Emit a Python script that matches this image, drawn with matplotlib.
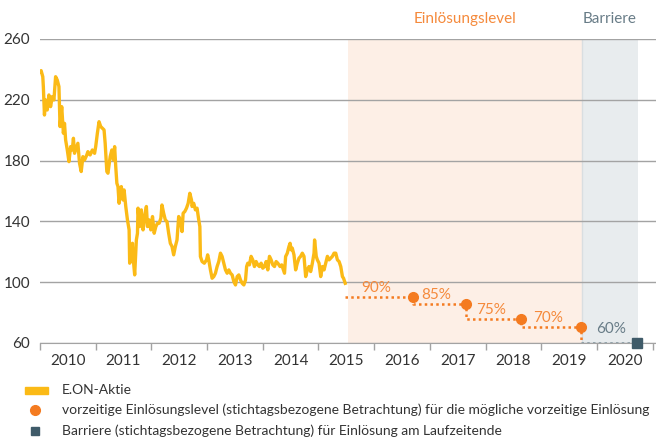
import matplotlib.pyplot as plt
from matplotlib.patches import Rectangle
from matplotlib.lines import Line2D

plt.rcParams['font.family'] = ['Lato', 'DejaVu Sans']

# E.ON share price
stock_years = [
    2010.00, 2010.02, 2010.05, 2010.06, 2010.08, 2010.10, 2010.13, 2010.16, 2010.19, 2010.22,
    2010.25, 2010.28, 2010.31, 2010.34, 2010.36, 2010.39, 2010.42, 2010.44, 2010.46, 2010.49,
    2010.52, 2010.55, 2010.58, 2010.60, 2010.62, 2010.66, 2010.68, 2010.71, 2010.74, 2010.77,
    2010.80, 2010.84, 2010.86, 2010.90, 2010.94, 2010.98, 2011.00, 2011.03, 2011.06, 2011.09,
    2011.12, 2011.15, 2011.17, 2011.20, 2011.22, 2011.26, 2011.29, 2011.32, 2011.34, 2011.36,
    2011.38, 2011.40, 2011.42, 2011.44, 2011.46, 2011.49, 2011.51, 2011.54, 2011.57, 2011.60,
    2011.61, 2011.64, 2011.66, 2011.67, 2011.70, 2011.73, 2011.75, 2011.76, 2011.79, 2011.82,
    2011.85, 2011.88, 2011.91, 2011.93, 2011.96, 2011.99, 2012.02, 2012.05, 2012.08, 2012.11,
    2012.14, 2012.17, 2012.19, 2012.22, 2012.25, 2012.28, 2012.31, 2012.34, 2012.37, 2012.40,
    2012.43, 2012.46, 2012.49, 2012.52, 2012.55, 2012.57, 2012.60, 2012.63, 2012.66, 2012.69,
    2012.72, 2012.73, 2012.76, 2012.79, 2012.82, 2012.85, 2012.87, 2012.88, 2012.91, 2012.95,
    2012.99, 2013.01, 2013.03, 2013.06, 2013.09, 2013.12, 2013.15, 2013.18, 2013.21, 2013.24,
    2013.27, 2013.30, 2013.33, 2013.36, 2013.39, 2013.42, 2013.45, 2013.48, 2013.51, 2013.54,
    2013.57, 2013.60, 2013.63, 2013.66, 2013.69, 2013.71, 2013.73, 2013.76, 2013.79, 2013.82,
    2013.85, 2013.88, 2013.91, 2013.94, 2013.97, 2014.00, 2014.03, 2014.06, 2014.09, 2014.12,
    2014.15, 2014.18, 2014.21, 2014.24, 2014.27, 2014.31, 2014.34, 2014.37, 2014.39, 2014.41,
    2014.44, 2014.47, 2014.49, 2014.51, 2014.53, 2014.56, 2014.59, 2014.62, 2014.65, 2014.68,
    2014.71, 2014.74, 2014.77, 2014.80, 2014.83, 2014.86, 2014.89, 2014.92, 2014.93, 2014.96,
    2014.98, 2015.01, 2015.04, 2015.07, 2015.10, 2015.13, 2015.16, 2015.19, 2015.22, 2015.25,
    2015.28, 2015.31, 2015.34, 2015.37, 2015.40, 2015.43, 2015.45, 2015.48,
]
stock_prices = [
    238.5, 239.2, 235.2, 228.7, 210.0, 219.9, 213.3, 223.2, 215.5, 222.1,
    219.9, 235.2, 233.0, 228.7, 202.4, 215.5, 198.0, 204.5, 193.6, 187.0,
    179.3, 189.2, 187.0, 194.7, 184.8, 189.2, 191.4, 178.2, 172.8, 182.6,
    180.4, 183.7, 185.9, 183.7, 187.0, 184.8, 189.2, 198.0, 205.6, 202.4,
    201.3, 200.2, 191.4, 172.8, 171.7, 182.6, 187.0, 180.4, 189.2, 176.0,
    165.1, 162.9, 151.9, 158.5, 162.9, 154.1, 160.7, 149.8, 141.0, 134.4,
    112.5, 114.7, 125.6, 116.9, 104.8, 127.8, 132.2, 148.7, 136.6, 147.6,
    134.4, 143.2, 149.8, 136.6, 141.0, 134.4, 143.2, 132.2, 136.6, 138.8,
    138.8, 142.1, 150.8, 145.4, 141.0, 139.9, 132.2, 125.6, 123.5, 118.0,
    123.5, 127.8, 143.2, 141.0, 133.3, 145.4, 146.5, 148.7, 151.9, 158.5,
    154.1, 149.8, 151.9, 147.6, 148.7, 141.0, 136.6, 116.9, 113.6, 112.5,
    114.7, 118.0, 114.7, 108.1, 102.6, 103.7, 105.9, 110.3, 113.6, 119.1,
    116.9, 112.5, 108.1, 105.9, 108.1, 105.9, 104.8, 100.4, 98.2, 103.7,
    104.8, 101.5, 99.3, 98.2, 101.5, 110.3, 112.5, 111.4, 117.0, 114.7,
    110.3, 113.6, 111.4, 110.3, 112.5, 109.2, 110.3, 113.6, 108.1, 117.0,
    114.7, 111.4, 110.3, 113.6, 112.5, 110.3, 111.4, 108.1, 105.9, 116.9,
    119.1, 123.5, 125.6, 121.3, 122.4, 118.0, 108.1, 112.5, 115.8, 117.0,
    119.1, 117.0, 103.7, 108.1, 110.3, 107.0, 112.5, 119.1, 127.8, 117.0,
    114.7, 112.5, 103.7, 110.3, 108.1, 112.5, 117.0, 114.7, 115.8, 117.0,
    119.1, 119.1, 114.7, 113.6, 110.3, 103.7, 102.6, 99.3,
]

# early redemption levels and barrier
start_date = 2015.47
level_dates = [2016.69, 2017.64, 2018.64, 2019.72]
level_values = [90.5, 85.5, 75.5, 70.5]
level_labels = ['90%', '85%', '75%', '70%']
barrier_date = 2020.72
barrier_value = 60.3
barrier_label = '60%'

redemption_span = (2015.53, 2019.74)
barrier_span = (2019.74, 2020.73)

years = list(range(2010, 2021))

yellow = '#FBBA16'
orange = '#F47B20'
slate = '#3F5B69'
grey_text = '#687C87'
grid_col = '#A3A3A3'

fig = plt.figure(figsize=(6.56, 4.41), dpi=100)
ax = fig.add_axes([40 / 656, 1 - 343 / 441, 616 / 656, 304 / 441])

ax.axvspan(*redemption_span, color='#FDEFE6', lw=0, zorder=0)
ax.axvspan(*barrier_span, color='#E8ECEE', lw=0, zorder=0)
ax.axvline(barrier_span[0], color='#D9DEE1', lw=1, zorder=0.5)

ax.set_xlim(2010, 2021.06)
ax.set_ylim(60, 260)

ax.set_yticks([60, 100, 140, 180, 220, 260])
ax.yaxis.grid(True, color=grid_col, lw=1)
ax.set_axisbelow(False)
ax.tick_params(axis='y', length=0, pad=7, labelsize=11, labelcolor='#333333')

ax.set_xticks([y for y in years] + [2021])
ax.set_xticklabels([])
ax.set_xticks([y + 0.5 for y in years], minor=True)
ax.set_xticklabels([str(y) for y in years], minor=True)
ax.tick_params(axis='x', which='major', length=5, color=grid_col, width=1)
ax.tick_params(axis='x', which='minor', length=0, pad=8, labelsize=11, labelcolor='#333333')

for s in ['left', 'right', 'top']:
    ax.spines[s].set_visible(False)
ax.spines['bottom'].set_color(grid_col)

# stock line
ax.plot(stock_years, stock_prices, color=yellow, lw=2.4, solid_joinstyle='round', zorder=3)

# step line of redemption levels
step_x = [start_date]
step_y = [level_values[0]]
for i, (d, v) in enumerate(zip(level_dates, level_values)):
    step_x.append(d)
    step_y.append(v)
    nxt = level_values[i + 1] if i + 1 < len(level_values) else barrier_value
    step_x.append(d)
    step_y.append(nxt)
ax.plot(step_x, step_y, color=orange, lw=1.8, ls=(0, (1, 1.3)), zorder=3)
ax.plot([level_dates[-1], barrier_date], [barrier_value, barrier_value],
        color='#7F939C', lw=1.8, ls=(0, (1, 1.3)), zorder=3)

ax.plot(level_dates, level_values, 'o', color=orange, ms=7, zorder=4)
ax.plot([barrier_date], [barrier_value], 's', color=slate, ms=6.5, zorder=4, clip_on=False)

seg_starts = [start_date] + level_dates[:-1]
for s, e, v, lab in zip(seg_starts, level_dates, level_values, level_labels):
    ax.text((s + e) / 2 - 0.05, v + 1.4, lab, color='#F58A3C', fontsize=11,
            ha='center', va='bottom', zorder=5)
ax.text((level_dates[-1] + barrier_date) / 2 + 0.03, barrier_value + 4.2, barrier_label,
        color=grey_text, fontsize=11, ha='center', va='bottom', zorder=5)

ax.text(sum(redemption_span) / 2, 273, 'Einlösungslevel', color='#F58A3C', fontsize=11,
        ha='center', va='center', clip_on=False)
ax.text(sum(barrier_span) / 2, 273, 'Barriere', color=grey_text, fontsize=11,
        ha='center', va='center', clip_on=False)

# legend drawn by hand
fig.patches.append(Rectangle((25 / 656, 1 - 394 / 441), 23 / 656, 7 / 441,
                             transform=fig.transFigure, color=yellow))
fig.lines.append(Line2D([35 / 656], [1 - 410 / 441], marker='o', color=orange, ms=7,
                        transform=fig.transFigure))
fig.lines.append(Line2D([35 / 656], [1 - 431 / 441], marker='s', color=slate, ms=6,
                        transform=fig.transFigure))
legend_texts = ['E.ON-Aktie',
                'vorzeitige Einlösungslevel (stichtagsbezogene Betrachtung) für die mögliche vorzeitige Einlösung',
                'Barriere (stichtagsbezogene Betrachtung) für Einlösung am Laufzeitende']
for t, yp in zip(legend_texts, [390, 410, 431]):
    fig.text(62 / 656, 1 - yp / 441, t, fontsize=10, color='#333333', va='center')

fig.savefig('out.png', dpi=100)
